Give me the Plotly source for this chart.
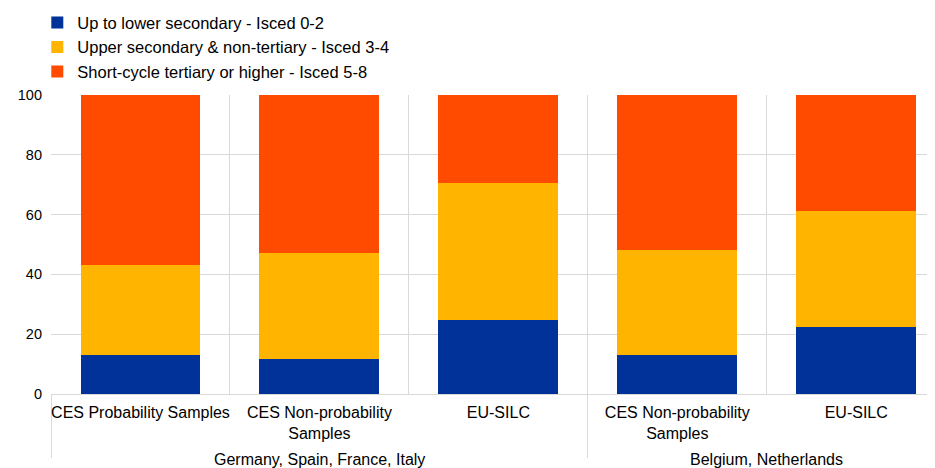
import plotly.graph_objects as go

# groups and sample categories
group_names = ["Germany, Spain, France, Italy", "Belgium, Netherlands"]
group_of_bar = [0, 0, 0, 1, 1]
samples = [
    "CES Probability Samples",
    "CES Non-probability<br>Samples",
    "EU-SILC",
    "CES Non-probability<br>Samples",
    "EU-SILC",
]

# shares in percent
lower_secondary = [13.0, 11.7, 24.8, 13.0, 22.5]
upper_secondary = [30.0, 35.5, 45.9, 35.2, 38.7]
tertiary = [57.0, 52.8, 29.3, 51.8, 38.8]

series = [
    ("Up to lower secondary - Isced 0-2", lower_secondary, "#003299"),
    ("Upper secondary & non-tertiary - Isced 3-4", upper_secondary, "#FFB400"),
    ("Short-cycle tertiary or higher - Isced 5-8", tertiary, "#FF4B00"),
]

# the axis groups bars by invisible keys; the group names are drawn
# lower down as annotations, like in the original chart
group_keys = [" " * (g + 1) for g in group_of_bar]
x_range = [-0.5, 4.44]

fig = go.Figure()
for name, values, colour in series:
    fig.add_trace(go.Bar(
        x=[group_keys, samples],
        y=values,
        name=name,
        marker=dict(color=colour, line=dict(width=0)),
    ))

for g, label in enumerate(group_names):
    idx = [i for i, gg in enumerate(group_of_bar) if gg == g]
    centre = sum(idx) / len(idx)
    fig.add_annotation(
        text=label,
        xref="paper", yref="paper",
        x=(centre - x_range[0]) / (x_range[1] - x_range[0]),
        xanchor="center",
        y=-0.22, yanchor="middle",
        showarrow=False,
        font=dict(size=16),
    )

# page body adds an 8px offset, so the figure is a bit smaller than the window
fig.update_layout(
    width=927,
    height=460,
    barmode="stack",
    bargap=0.33,
    margin=dict(l=43, r=0, t=87, b=74, autoexpand=False),
    plot_bgcolor="white",
    paper_bgcolor="white",
    font=dict(family="Liberation Sans, Arial, sans-serif", size=16, color="black"),
    legend=dict(
        x=-0.0155, y=1.30, xanchor="left", yanchor="top",
        traceorder="normal",
        font=dict(size=16.5),
        tracegroupgap=0,
    ),
)

fig.update_xaxes(
    type="multicategory",
    range=x_range,
    tickson="boundaries",
    tickangle=0,
    ticklabelstandoff=4,
    showgrid=True,
    gridcolor="#d9d9d9",
    ticks="",
    showline=True,
    linecolor="#d9d9d9",
    showdividers=True,
    dividercolor="#d9d9d9",
    dividerwidth=1,
    tickfont=dict(size=16),
)
fig.update_yaxes(
    range=[0, 100],
    dtick=20,
    showgrid=True,
    gridcolor="#d9d9d9",
    zeroline=False,
    ticks="",
    ticklabelstandoff=8,
    tickfont=dict(size=14.5),
)

fig.write_html("out.html")
